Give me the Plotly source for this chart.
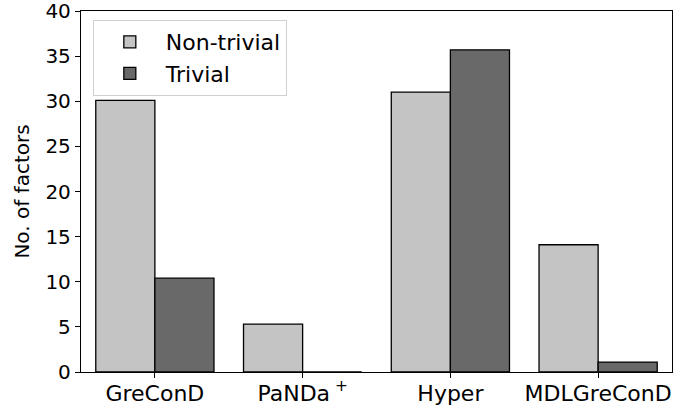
import plotly.graph_objects as go

categories = ["GreConD", "PaNDa<sup> +</sup>", "Hyper", "MDLGreConD"]
non_trivial = [30.1, 5.3, 31.0, 14.1]
trivial = [10.4, 0.0, 35.7, 1.1]

FONT = "DejaVu Sans"

fig = go.Figure()
fig.add_trace(go.Bar(x=categories, y=non_trivial, name="Non-trivial",
                     marker=dict(color="#c4c4c4", line=dict(color="black", width=1.3))))
fig.add_trace(go.Bar(x=categories, y=trivial, name="Trivial",
                     marker=dict(color="#696969", line=dict(color="black", width=1.3))))

fig.update_layout(
    width=673, height=411,
    margin=dict(l=81, r=1, t=11, b=39),
    barmode="group", bargap=0.2, bargroupgap=0,
    plot_bgcolor="white", paper_bgcolor="white",
    font=dict(family=FONT, size=20, color="black"),
    legend=dict(x=0.02, y=0.975, xanchor="left", yanchor="top",
                bordercolor="#d0d0d0", borderwidth=1, bgcolor="rgba(255,255,255,0.8)",
                font=dict(family=FONT, size=22, color="black"),
                itemwidth=62),
    xaxis=dict(range=[-0.5, 3.5], showline=True, linecolor="black", linewidth=1.3,
               mirror=True, ticks="outside", ticklen=5, tickcolor="black", showgrid=False,
               automargin=False, ticklabelstandoff=-4,
               tickfont=dict(family=FONT, size=22, color="black")),
    yaxis=dict(range=[0, 40], dtick=5, showline=True, linecolor="black", linewidth=1.3,
               mirror=True, ticks="outside", ticklen=5, tickcolor="black", showgrid=False,
               zeroline=False, automargin=False, ticklabeloverflow="allow",
               tickfont=dict(family=FONT, size=20, color="black"),
               title=dict(text="No. of factors", standoff=10,
                          font=dict(family=FONT, size=20, color="black"))),
)
fig.write_html("out.html", config={"displayModeBar": False},
               post_script="document.body.style.margin='0';document.body.style.overflow='hidden';")
